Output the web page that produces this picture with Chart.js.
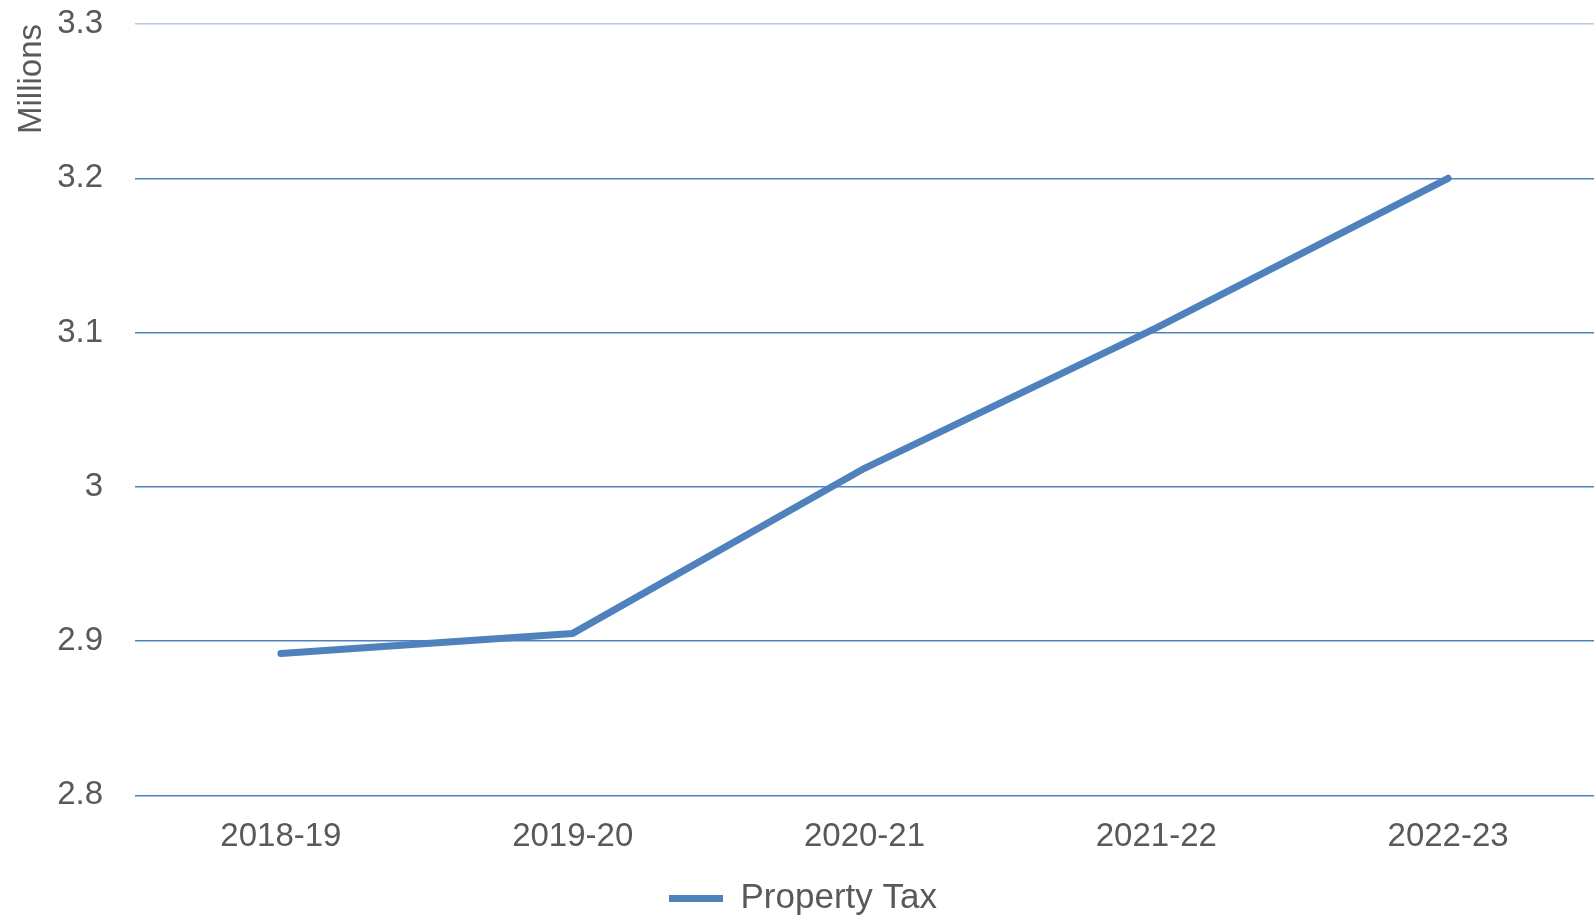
<!DOCTYPE html>
<html>
<head>
<meta charset="utf-8">
<script src="https://cdn.jsdelivr.net/npm/chart.js@4/dist/chart.umd.min.js"></script>
<style>
    html, body { margin: 0; padding: 0; background: #fff; }
    #wrap { width: 1594px; height: 919px; }
</style>
</head>
<body>
<div id="wrap"><canvas id="propertyTaxGraph"></canvas></div>
<script>
const years = ['2018-19', '2019-20', '2020-21', '2021-22', '2022-23'];
const propertyTax = [2.892, 2.905, 3.012, 3.103, 3.200];
const yMin = 2.8;
const yMax = 3.3;
const yStep = 0.1;

const textColor = '#595959';
const lineColor = '#4F81BD';

Chart.defaults.font.family = '"Liberation Sans", Arial, sans-serif';
Chart.defaults.color = textColor;

const propertyTaxGraph = document.getElementById('propertyTaxGraph');

new Chart(propertyTaxGraph, {
    type: 'line',
    data: {
        labels: years,
        datasets: [
            {
                label: 'Property Tax',
                data: propertyTax,
                borderColor: lineColor,
                backgroundColor: lineColor,
                borderWidth: 7,
                borderCapStyle: 'round',
                borderJoinStyle: 'round',
                pointRadius: 0,
                pointHoverRadius: 0,
                tension: 0
            }
        ]
    },
    options: {
        responsive: true,
        maintainAspectRatio: false,
        animation: false,
        layout: {
            padding: { left: 12, right: 0, top: 0, bottom: -7 }
        },
        plugins: {
            legend: {
                position: 'bottom',
                labels: {
                    usePointStyle: true,
                    pointStyle: 'line',
                    pointStyleWidth: 54,
                    boxHeight: 6,
                    font: { size: 35 },
                    color: textColor,
                    padding: 10
                }
            },
            tooltip: { enabled: false }
        },
        scales: {
            x: {
                offset: true,
                grid: { display: false, offset: true },
                border: { display: false },
                ticks: {
                    font: { size: 33 },
                    color: textColor,
                    padding: 14,
                    maxRotation: 0
                }
            },
            y: {
                min: yMin,
                max: yMax,
                // keep the top gridline close to the canvas edge, like the original
                afterFit: (scale) => {
                    scale.paddingTop = 24;
                    scale.width = 123;
                },
                grid: {
                    drawTicks: false,
                    lineWidth: 1.5,
                    color: (ctx) => ctx.tick && ctx.tick.value >= yMax - 1e-9 ? '#B9CBE0' : lineColor
                },
                border: { display: false },
                ticks: {
                    stepSize: yStep,
                    font: { size: 33 },
                    color: textColor,
                    padding: 32,
                    callback: (v) => String(Math.round(v * 10) / 10)
                },
                title: {
                    display: true,
                    text: 'Millions',
                    align: 'end',
                    font: { size: 33 },
                    color: textColor,
                    padding: { top: 0, bottom: 4 }
                }
            }
        }
    }
});
</script>
</body>
</html>
